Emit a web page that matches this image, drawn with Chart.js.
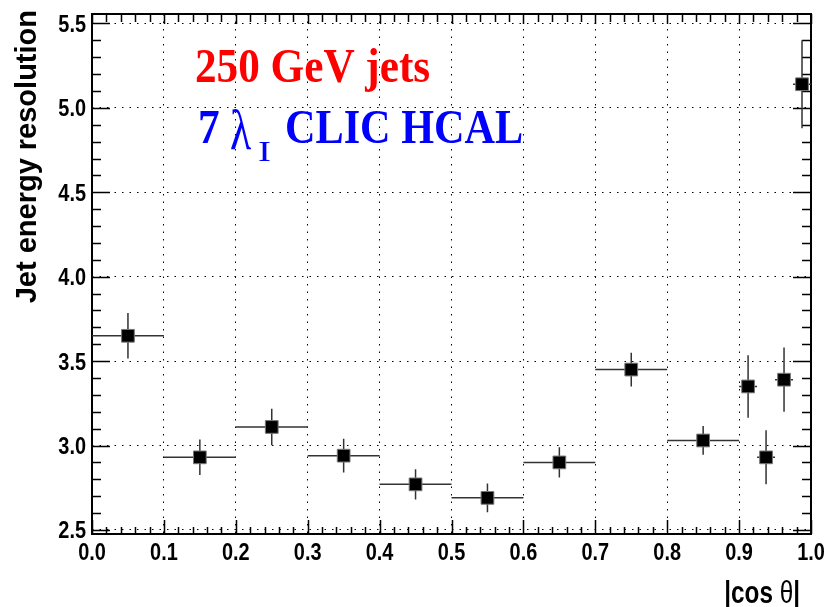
<!DOCTYPE html>
<html>
<head>
<meta charset="utf-8">
<script src="https://cdn.jsdelivr.net/npm/chart.js@4.4.0/dist/chart.umd.min.js"></script>
<style>
  html, body { margin: 0; padding: 0; background: #fff; }
</style>
</head>
<body>
<canvas id="resChart" width="827" height="607"></canvas>
<script>
// |cos theta| bins (centre, half width) and measured resolution
const binCenters = [0.05, 0.15, 0.25, 0.35, 0.45, 0.55, 0.65, 0.75, 0.85, 0.9125, 0.9375, 0.9625, 0.9875];
const binHalfWidths = [0.05, 0.05, 0.05, 0.05, 0.05, 0.05, 0.05, 0.05, 0.05, 0.0125, 0.0125, 0.0125, 0.0125];
const resolution = [3.65, 2.93, 3.11, 2.94, 2.77, 2.69, 2.90, 3.45, 3.03, 3.35, 2.93, 3.39, 5.14];
const resolutionErr = [0.135, 0.105, 0.108, 0.10, 0.09, 0.085, 0.09, 0.10, 0.085, 0.185, 0.16, 0.19, 0.26];

const xTicks = [0.0, 0.1, 0.2, 0.3, 0.4, 0.5, 0.6, 0.7, 0.8, 0.9, 1.0];
const yTicks = [2.5, 3.0, 3.5, 4.0, 4.5, 5.0, 5.5];
const xTitle = '|cos θ|';
const yTitle = 'Jet energy resolution';

const sansFont = "'Liberation Sans', Arial, sans-serif";
const serifFont = "'Liberation Serif', 'Times New Roman', serif";

// horizontal + vertical error bars
const errorBars = {
  id: 'errorBars',
  beforeDatasetsDraw(chart) {
    const ctx = chart.ctx;
    const xs = chart.scales.x, ys = chart.scales.y;
    ctx.save();
    ctx.strokeStyle = '#333';
    ctx.lineWidth = 1.5;
    binCenters.forEach((c, i) => {
      const py = ys.getPixelForValue(resolution[i]);
      const px = xs.getPixelForValue(c);
      ctx.beginPath();
      ctx.moveTo(xs.getPixelForValue(c - binHalfWidths[i]), py);
      ctx.lineTo(xs.getPixelForValue(c + binHalfWidths[i]), py);
      ctx.moveTo(px, ys.getPixelForValue(resolution[i] - resolutionErr[i]));
      ctx.lineTo(px, ys.getPixelForValue(resolution[i] + resolutionErr[i]));
      ctx.stroke();
    });
    ctx.restore();
  }
};

// ROOT-like frame with inner ticks on all four sides
const frameTicks = {
  id: 'frameTicks',
  beforeDatasetsDraw(chart) {
    const ctx = chart.ctx;
    const a = chart.chartArea;
    const xs = chart.scales.x, ys = chart.scales.y;
    ctx.save();
    ctx.strokeStyle = '#000';
    ctx.lineWidth = 2;
    ctx.strokeRect(a.left, a.top, a.right - a.left, a.bottom - a.top);
    ctx.lineWidth = 1.5;
    ctx.beginPath();
    for (let k = 0; k <= 50; k++) {
      const px = Math.round(xs.getPixelForValue(k * 0.02)) + 0.5;
      const len = k % 5 === 0 ? 14 : 7;
      ctx.moveTo(px, a.bottom); ctx.lineTo(px, a.bottom - len);
      ctx.moveTo(px, a.top); ctx.lineTo(px, a.top + (k % 5 === 0 ? 10 : 8));
    }
    for (let k = 0; k <= 30; k++) {
      const py = Math.round(ys.getPixelForValue(2.5 + k * 0.1)) + 0.5;
      const len = k % 5 === 0 ? 18 : 9;
      ctx.moveTo(a.left, py); ctx.lineTo(a.left + len, py);
      ctx.moveTo(a.right, py); ctx.lineTo(a.right - len, py);
    }
    ctx.stroke();
    ctx.restore();
  }
};

function squashedText(ctx, text, x, y, font, color, sx, align) {
  ctx.save();
  ctx.translate(x, y);
  ctx.scale(sx, 1);
  ctx.font = font;
  ctx.fillStyle = color;
  ctx.textBaseline = 'alphabetic';
  ctx.textAlign = align || 'left';
  ctx.fillText(text, 0, 0);
  ctx.restore();
}

// condensed bold tick labels and axis titles, ROOT style
const axisText = {
  id: 'axisText',
  afterDraw(chart) {
    const ctx = chart.ctx;
    const a = chart.chartArea;
    const xs = chart.scales.x, ys = chart.scales.y;
    const tf = 'bold 24px ' + sansFont;
    xTicks.forEach(v => {
      squashedText(ctx, v.toFixed(1), xs.getPixelForValue(v), a.bottom + 26, tf, '#000', 0.83, 'center');
    });
    yTicks.forEach(v => {
      squashedText(ctx, v.toFixed(1), a.left - 6, ys.getPixelForValue(v) + 8.5, tf, '#000', 0.83, 'right');
    });
    // x title: "|cos " bold, theta regular, "|" bold
    const sx = 0.76;
    ctx.save();
    ctx.font = 'bold 32px ' + sansFont;
    const wBar = ctx.measureText('|').width;
    ctx.font = '32px ' + sansFont;
    const wTh = ctx.measureText('θ').width;
    ctx.restore();
    let xr = a.right - 11;
    squashedText(ctx, '|', xr, 603, 'bold 32px ' + sansFont, '#000', sx, 'right');
    xr -= wBar * sx;
    squashedText(ctx, 'θ', xr, 603, '32px ' + sansFont, '#000', sx, 'right');
    xr -= wTh * sx;
    squashedText(ctx, xTitle.slice(0, 5), xr, 603, 'bold 32px ' + sansFont, '#000', sx, 'right');
    // y title, rotated, ending near the top
    ctx.save();
    ctx.translate(36, 10);
    ctx.rotate(-Math.PI / 2);
    ctx.font = 'bold 29px ' + sansFont;
    ctx.fillStyle = '#000';
    ctx.textAlign = 'right';
    ctx.textBaseline = 'alphabetic';
    ctx.fillText(yTitle, 0, 0);
    ctx.restore();
  }
};

const labels = {
  id: 'labels',
  afterDraw(chart) {
    const ctx = chart.ctx;
    squashedText(ctx, '250 GeV jets', 195, 82, 'bold 48px ' + serifFont, '#ff0000', 0.9);
    squashedText(ctx, '7', 198, 143, 'bold 48px ' + serifFont, '#0000ff', 0.9);
    squashedText(ctx, 'λ', 230, 149, '56px ' + serifFont, '#0000ff', 0.78);
    squashedText(ctx, 'I', 258, 161, '30px ' + serifFont, '#0000ff', 1.3);
    squashedText(ctx, 'CLIC HCAL', 285, 143, 'bold 48px ' + serifFont, '#0000ff', 0.88);
  }
};

const ctx = document.getElementById('resChart').getContext('2d');
new Chart(ctx, {
  type: 'scatter',
  data: {
    datasets: [{
      data: binCenters.map((x, i) => ({ x: x, y: resolution[i] })),
      pointStyle: 'rect',
      pointRadius: 9,
      pointHoverRadius: 9,
      backgroundColor: '#000',
      borderColor: '#777',
      borderWidth: 1,
      showLine: false
    }]
  },
  options: {
    responsive: false,
    animation: false,
    devicePixelRatio: 1,
    layout: { padding: { top: 14, right: 16, left: 0, bottom: 0 } },
    plugins: { legend: { display: false }, tooltip: { enabled: false } },
    scales: {
      x: {
        type: 'linear',
        min: 0,
        max: 1,
        afterBuildTicks: s => { s.ticks = xTicks.map(v => ({ value: v })); },
        afterFit: s => { s.height = 73; },
        ticks: { display: false },
        grid: { color: '#000', lineWidth: 1, drawTicks: false },
        border: { display: false, dash: [1.5, 6] }
      },
      y: {
        type: 'linear',
        min: 2.476,
        max: 5.556,
        afterBuildTicks: s => { s.ticks = yTicks.map(v => ({ value: v })); },
        afterFit: s => { s.width = 92; },
        ticks: { display: false },
        grid: { color: '#000', lineWidth: 1, drawTicks: false },
        border: { display: false, dash: [1.5, 6] }
      }
    }
  },
  plugins: [frameTicks, errorBars, axisText, labels]
});
</script>
</body>
</html>
